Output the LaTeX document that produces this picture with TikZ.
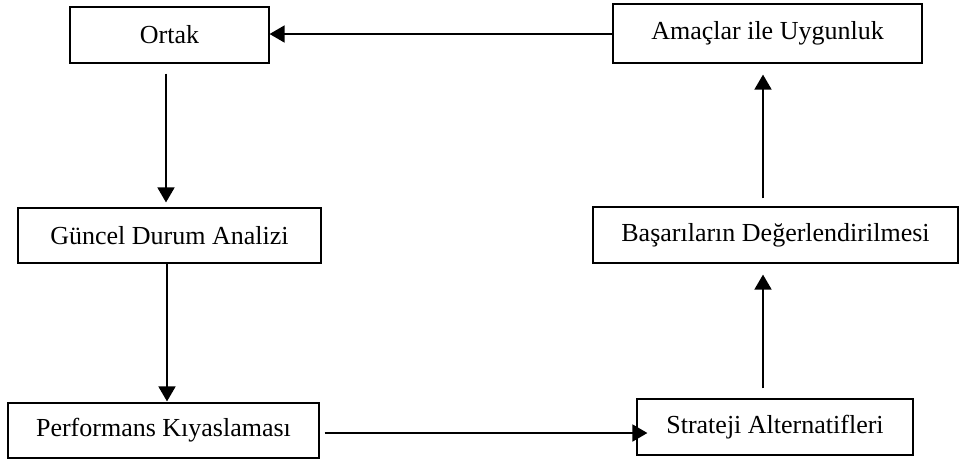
\documentclass[tikz,border=0pt]{standalone}
\usepackage{fontspec}
\setmainfont{Liberation Serif}
\usetikzlibrary{arrows.meta}
\begin{document}
\begin{tikzpicture}[x=1pt,y=-1pt,
  stepbox/.style={draw, line width=1.2pt, inner sep=0pt, anchor=center,
    font=\fontsize{26}{30}\selectfont},
  flow/.style={line width=1.8pt, -{Triangle[length=15pt,width=17pt]}}]
  \useasboundingbox (0,0) rectangle (960,459);
  % process boxes
  \node[stepbox, minimum width=199pt, minimum height=56pt] (ortak) at (169.5,35) {Ortak};
  \node[stepbox, minimum width=309pt, minimum height=59pt] (amac) at (767.5,33.5) {Amaçlar ile Uygunluk};
  \node[stepbox, minimum width=303pt, minimum height=55pt] (guncel) at (169.5,235.5) {Güncel Durum Analizi};
  \node[stepbox, minimum width=365pt, minimum height=56pt] (basari) at (775.5,235) {Başarıların Değerlendirilmesi};
  \node[stepbox, minimum width=311pt, minimum height=55pt] (perf) at (163.5,430.5) {Performans Kıyaslaması};
  \node[stepbox, minimum width=276pt, minimum height=56pt] (strat) at (775,427) {Strateji Alternatifleri};
  % connectors
  \draw[flow] ([yshift=-0.5pt]amac.west) -- ([yshift=-0.5pt]amac.west -| ortak.east);
  \draw[flow, shorten <=10pt, shorten >=5pt] ([xshift=-3.5pt]ortak.south) -- ([xshift=-3.5pt]ortak.south |- guncel.north);
  \draw[flow, shorten >=1pt] ([xshift=-2.5pt]guncel.south) -- ([xshift=-2.5pt]guncel.south |- perf.north);
  \draw[flow, shorten >=-6pt] ([xshift=5pt,yshift=-2.5pt]perf.east) -- ([xshift=5pt,yshift=-2.5pt]perf.east -| strat.west);
  \draw[flow, shorten <=10pt, shorten >=11pt] ([xshift=-12pt]strat.north) -- ([xshift=-12pt]strat.north |- basari.south);
  \draw[flow, shorten <=8pt, shorten >=11pt] ([xshift=-12.5pt]basari.north) -- ([xshift=-12.5pt]basari.north |- amac.south);
\end{tikzpicture}
\end{document}
